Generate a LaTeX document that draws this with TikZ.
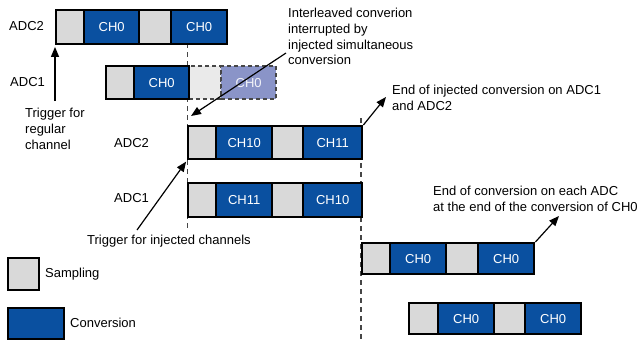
\documentclass[tikz,border=0pt]{standalone}
\usepackage{fontspec}
\setmainfont{Liberation Sans}
\usetikzlibrary{arrows.meta}
\definecolor{convblue}{RGB}{10,80,160}
\definecolor{sampgray}{RGB}{217,217,217}
\definecolor{ghostgray}{RGB}{234,234,234}
\definecolor{ghostblue}{RGB}{138,148,200}
\definecolor{dashgray}{RGB}{70,70,70}

\begin{document}
\begin{tikzpicture}[x=1pt,y=-1pt,
  font=\fontsize{13}{15.6}\selectfont,
  sz/.style 2 args={minimum width=#1,minimum height=#2},
  segbox/.style={draw=black,line width=2.4pt,anchor=north west,inner sep=0pt},
  samp/.style={segbox,fill=sampgray},
  conv/.style={segbox,fill=convblue,text=white},
  ghostsamp/.style={segbox,draw=dashgray,dash pattern=on 4pt off 3pt,fill=ghostgray},
  ghostconv/.style={segbox,draw=dashgray,dash pattern=on 4pt off 3pt,fill=ghostblue,text=white!90!ghostblue},
  vdash/.style={draw=dashgray,line width=1.6pt,dash pattern=on 5pt off 4pt},
  ptr/.style={draw=black,line width=1.2pt,-{Triangle[length=10pt,width=8pt]}},
  lbl/.style={anchor=base west,inner sep=0pt},
  note/.style={anchor=north west,inner sep=0pt,align=left}]

\useasboundingbox (0,0) rectangle (640,340);

% timing markers
\coordinate (d1top) at (187.5,43);
\coordinate (d1bot) at (187.5,228);
\coordinate (d2top) at (361,118);
\coordinate (d2bot) at (361,340);
\draw[vdash] (d1top) -- (d1bot);
\draw[vdash] (d2top) -- (d2bot);

% regular conversions, ADC2
\node[samp,sz={28}{34}] (a2s1) at (55,9) {};
\node[conv,sz={55}{34}] (a2c1) at (83,9) {CH0};
\node[samp,sz={32}{34}] (a2s2) at (138,9) {};
\node[conv,sz={56}{34}] (a2c2) at (170,9) {CH0};

% regular conversions, ADC1 (interrupted part dashed)
\node[ghostsamp,sz={32}{33}] (a1g1) at (188,65) {};
\node[ghostconv,sz={55}{33}] (a1g2) at (220,65) {CH0};
\node[samp,sz={28}{33}] (a1s1) at (105,65) {};
\node[conv,sz={55}{33}] (a1c1) at (133,65) {CH0};

% injected conversions, ADC2
\node[samp,sz={28}{33}] (i2s1) at (187,125) {};
\node[conv,sz={56}{33}] (i2c1) at (215,125) {CH10};
\node[samp,sz={31}{33}] (i2s2) at (271,125) {};
\node[conv,sz={59}{33}] (i2c2) at (302,125) {CH11};

% injected conversions, ADC1
\node[samp,sz={28}{34}] (i1s1) at (187,182) {};
\node[conv,sz={56}{34}] (i1c1) at (215,182) {CH11};
\node[samp,sz={31}{34}] (i1s2) at (271,182) {};
\node[conv,sz={59}{34}] (i1c2) at (302,182) {CH10};

% resumed regular conversions
\node[samp,sz={28}{31}] (e1s1) at (361,242) {};
\node[conv,sz={56}{31}] (e1c1) at (389,242) {CH0};
\node[samp,sz={32}{31}] (e1s2) at (445,242) {};
\node[conv,sz={56}{31}] (e1c2) at (477,242) {CH0};

\node[samp,sz={29}{31}] (e2s1) at (408,302) {};
\node[conv,sz={56}{31}] (e2c1) at (437,302) {CH0};
\node[samp,sz={31}{31}] (e2s2) at (493,302) {};
\node[conv,sz={56}{31}] (e2c2) at (524,302) {CH0};

% legend
\node[samp,sz={31}{32}] (legs) at (7,257) {};
\node[conv,sz={56}{31}] (legc) at (7,307) {};
\node[lbl] (legst) at (45,277.7) {Sampling};
\node[lbl] (legct) at (70,327.7) {Conversion};

% row labels
\node[lbl] (l1) at (9,30.7) {ADC2};
\node[lbl] (l2) at (10,86.7) {ADC1};
\node[lbl] (l3) at (114,147.7) {ADC2};
\node[lbl] (l4) at (114,202.7) {ADC1};

% annotations
\node[note] (trgreg) at (25,108.2) {Trigger for\\regular\\channel};
\node[lbl] (trginj) at (87,244.7) {Trigger for injected channels};
\node[note] (interl) at (288,8.2) {Interleaved converion\\interrupted by\\injected simultaneous\\conversion};
\node[note] (endinj) at (392,85.2) {End of injected conversion on ADC1\\and ADC2};
\node[note] (endeach) at (433,186.2) {End of conversion on each ADC\\at the end of the conversion of CH0};

% pointers
\coordinate (trgfoot) at (55,101);
\coordinate (interlfoot) at (286,53);
\coordinate (interltip) at (191,116);
\coordinate (trginjfoot) at (137,230);
\coordinate (endinjtip) at (386,97);
\coordinate (endeachtip) at (559,216);
\draw[ptr,shorten >=1.5pt] (trgfoot) -- (a2s1.south west);
\draw[ptr] (interlfoot) -- (interltip);
\draw[ptr,shorten >=1.5pt] (trginjfoot) -- (i2s1.south west);
\draw[ptr] (i2c2.north east) -- (endinjtip);
\draw[ptr] (e1c2.north east) -- (endeachtip);
\end{tikzpicture}
\end{document}
